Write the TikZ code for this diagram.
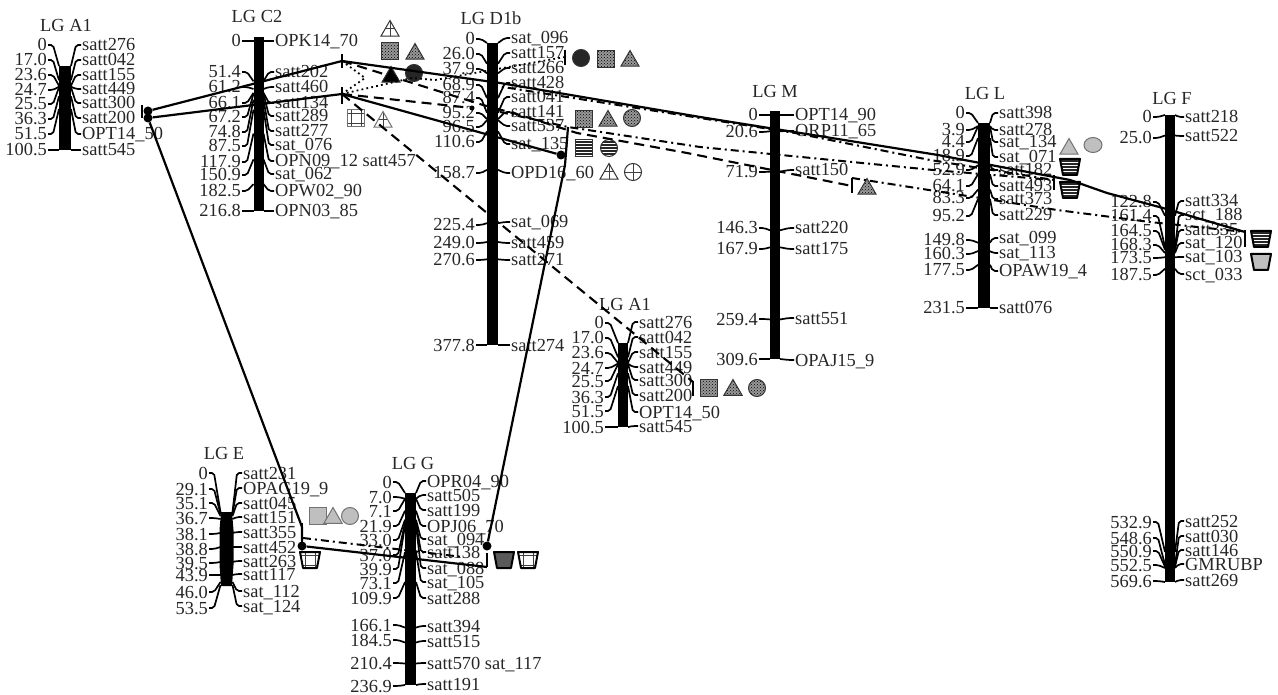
\documentclass[tikz,border=0pt]{standalone}
\usepackage{fontspec}
\setmainfont{Liberation Serif}
\usetikzlibrary{shapes.geometric,patterns}
\tikzset{
  x=1pt,y=-1pt,
  tickline/.style={line width=1.7pt,rounded corners=2pt},
  lab/.style={inner sep=0pt,font=\fontsize{18.4}{18.4}\selectfont,text=black!85},
  ttl/.style={inner sep=0pt,font=\fontsize{18.4}{18.4}\selectfont,text=black!85,anchor=base},
  sol/.style={line width=2.2pt,line join=round},
  ddot/.style={line width=2pt,dash pattern=on 8pt off 4pt on 2pt off 4pt},
  dsh/.style={line width=2.1pt,dash pattern=on 10pt off 6pt},
  dtt/.style={line width=1.8pt,dash pattern=on 1.8pt off 3.2pt},
  vtick/.style={line width=2.2pt},
  endot/.style={circle,fill=black,inner sep=0pt,minimum size=9pt},
  tri/.style={regular polygon,regular polygon sides=3,inner sep=0pt,minimum size=21pt,draw=black!80,line width=1pt},
  sqr/.style={rectangle,inner sep=0pt,minimum size=17pt,draw=black!80,line width=1pt},
  cir/.style={circle,inner sep=0pt,minimum size=17pt,draw=black!80,line width=1pt},
  cup/.style={draw=black,line width=2pt,line join=round},
  pdots/.style={preaction={fill=black!40},pattern=crosshatch dots,pattern color=black},
  pgrid/.style={path picture={
    \draw[line width=.8pt,black!75] (path picture bounding box.center)
      ++(-5,-20) -- ++(0,40) ++(10,0) -- ++(0,-40) ++(-25,15) -- ++(40,0) ++(0,10) -- ++(-40,0);}},
  pcross/.style={path picture={
    \draw[line width=.8pt,black!75] (path picture bounding box.center)
      ++(0,-20) -- ++(0,40) ++(-20,-20) -- ++(40,0);}},
  phl/.style={path picture={
    \draw[line width=1.3pt,black!85] (path picture bounding box.center)
      ++(-20,-6) -- ++(40,0) ++(0,3) -- ++(-40,0) ++(0,3) -- ++(40,0) ++(0,3) -- ++(-40,0) ++(0,3) -- ++(40,0);}},
  pgray/.style={fill=black!25,draw=black!55},
  pdark/.style={fill=black!65},
}
\newcommand{\cupat}[4]{% name, x, y, fill style
  \coordinate (#1) at (#2,#3);
  \draw[cup,#4,shift={(#1)}] (-10,-8) -- (10,-8) -- (7,8) -- (-7,8) -- cycle;
}
\newcommand{\marker}[6]{% name, pos, ylabel, yright, right text, y on bar
  \node[lab,anchor=base east] (#1l) at (\cxl,#3+6) {#2};
  \node[lab,anchor=base west] (#1r) at (\cxr,#4+6) {#5};
  \draw[tickline] (\cxl+1,#3) -- (\cxl+6,#3) -- (\cxc-\chw,#6);
  \draw[tickline] (\cxr-1,#4) -- (\cxr-6,#4) -- (\cxc+\chw,#6);
}
\newcommand{\linkgroup}[9]{% name, xc, halfwidth, top, bottom, xleft, xright, max, list
  \def\cxc{#2}\def\chw{#3}\def\cxl{#6}\def\cxr{#7}
  \fill (#2-#3,#4) rectangle (#2+#3,#5);
  \foreach \pos/\yl/\yr/\nm [count=\i] in {#9}{
    \pgfmathsetmacro\by{#4+\pos/#8*(#5-#4)}
    \marker{#1\i}{\pos}{\yl}{\yr}{\nm}{\by}
  }
}
\begin{document}
\begin{tikzpicture}
\useasboundingbox (0,0) rectangle (1278,695);
% titles
\node[ttl] (tA) at (66,32) {LG A1};
\node[ttl] (tC) at (257,23) {LG C2};
\node[ttl] (tD) at (491,25) {LG D1b};
\node[ttl] (tM) at (775,98) {LG M};
\node[ttl] (tL) at (985,100) {LG L};
\node[ttl] (tF) at (1172,105) {LG F};
\node[ttl] (tE) at (224,459) {LG E};
\node[ttl] (tG) at (413,469) {LG G};
\node[ttl] (tB) at (625,310) {LG A1};
% linkage groups
\linkgroup{a}{65}{6}{66}{150}{47}{82}{100.5}{
 0/45/45/satt276,17.0/60/60/satt042,23.6/75/75/satt155,24.7/90/89/satt449,
 25.5/104/103/satt300,36.3/119/118/satt200,51.5/134/134/OPT14\_50,100.5/150/150/satt545}
\linkgroup{c}{258.5}{5}{41}{211}{241}{275}{216.8}{
 0/41/41/OPK14\_70,51.4/72/72/satt202,61.2/87/87/satt460,66.1/103/103/satt134,
 67.2/117/116/satt289,74.8/132/131/satt277,87.5/146/145/sat\_076,117.9/162/161/OPN09\_12 satt457,
 150.9/175/174/sat\_062,182.5/191/191/OPW02\_90,216.8/211/211/OPN03\_85}
\fill (253.5,37) rectangle (263.5,42);
\linkgroup{d}{492.5}{5.5}{43}{345}{475}{511}{377.8}{
 0/39/38/sat\_096,26.0/54/53/satt157,37.9/69/68/satt266,68.9/85/83/satt428,
 87.4/98/97/satt041,95.2/113/112/satt141,96.5/127/126/satt537,110.6/142/144/sat\_135,
 158.7/173/173/OPD16\_60,225.4/225/222/sat\_069,249.0/243/243/satt459,270.6/260/260/satt271,377.8/345/345/satt274}
\linkgroup{m}{775}{5}{115}{359}{758}{795}{309.6}{
 0/115/115/OPT14\_90,20.6/132/131/ORP11\_65,71.9/172/170/satt150,146.3/228/228/satt220,
 167.9/249/249/satt175,259.4/319/318/satt551,309.6/359/360/OPAJ15\_9}
\fill (770,111) rectangle (780,116);
\linkgroup{l}{984}{6}{123}{308}{965}{999}{231.5}{
 0/113/113/satt398,3.9/130/130/satt278,4.4/142/142/sat\_134,18.9/156/157/sat\_071,
 52.9/170/170/satt182,64.1/186/186/satt493,83.3/198/199/satt373,95.2/216/215/satt229,
 149.8/240/238/sat\_099,160.3/254/253/sat\_113,177.5/270/271/OPAW19\_4,231.5/308/308/satt076}
\linkgroup{f}{1170}{5}{115}{582}{1152}{1185}{569.6}{
 0/117/117/satt218,25.0/138/136/satt522,122.8/202/201/satt334,161.4/216/215/sct\_188,
 164.5/231/230/satt335,168.3/245/243/sat\_120,173.5/258/257/sat\_103,187.5/275/274/sct\_033,
 532.9/522/521/satt252,548.6/538/536/satt030,550.9/551/550/satt146,552.5/565/564/GMRUBP,569.6/581/580/satt269}
\linkgroup{g}{410.5}{5.5}{493}{685}{392}{427}{236.9}{
 0/482/481/OPR04\_90,7.0/497/495/satt505,7.1/511/510/satt199,21.9/526/526/OPJ06\_70,
 33.0/540/539/sat\_094,37.0/555/552/satt138,39.9/569/568/sat\_088,73.1/583/582/sat\_105,
 109.9/598/598/satt288,166.1/625/626/satt394,184.5/640/641/satt515,210.4/663/663/satt570 sat\_117,236.9/686/684/satt191}
\linkgroup{b}{623}{5}{343}{427}{604}{639}{100.5}{
 0/323/322/satt276,17.0/338/337/satt042,23.6/353/352/satt155,24.7/368/367/satt449,
 25.5/381/380/satt300,36.3/397/395/satt200,51.5/411/412/OPT14\_50,100.5/427/426/satt545}
% LG E: its lines run down beside the bar
\fill (221,512) -- (232,512) -- (233.5,530) -- (233.5,565) -- (232,586) -- (221,586) -- (219.5,565) -- (219.5,530) -- cycle;
\def\cxc{226.5}\def\chw{6}\def\cxl{208}\def\cxr{243}
\marker{e1}{0}{473}{473}{satt231}{512}
\marker{e2}{29.1}{489}{488}{OPAG19\_9}{514}
\marker{e3}{35.1}{503}{503}{satt045}{516}
\marker{e4}{36.7}{518}{517}{satt151}{519}
\marker{e5}{38.1}{534}{532}{satt355}{533}
\marker{e6}{38.8}{549}{547}{satt452}{547}
\marker{e7}{39.5}{563}{561}{satt263}{562}
\marker{e8}{43.9}{575}{574}{satt117}{575}
\marker{e9}{46.0}{592}{591}{sat\_112}{582}
\marker{e10}{53.5}{608}{606}{sat\_124}{585}
% symbols
\node[tri,pcross] (s1) at (390,31) {};
\node[sqr,pdots] (s2) at (390,51) {};
\node[tri,pdots] (s3) at (415,54) {};
\node[tri,fill=black] (s4) at (391,77) {};
\node[cir,fill=black!85] (s5) at (414,73) {};
\node[sqr,pgrid,draw=black!55] (s6) at (356,118) {};
\node[tri,pcross,draw=black!55] (s7) at (383,122) {};
\node[cir,fill=black!85] (s8) at (581,58) {};
\node[sqr,pdots] (s9) at (606,59) {};
\node[tri,pdots] (s10) at (630,61) {};
\node[sqr,pdots] (s11) at (584,119) {};
\node[tri,pdots] (s12) at (608,121) {};
\node[cir,pdots] (s13) at (632,118) {};
\node[sqr,phl] (s14) at (584,148) {};
\node[cir,phl] (s15) at (609,148) {};
\node[tri,pcross] (s16) at (609,174) {};
\node[cir,pcross] (s17) at (633,172) {};
\node[sqr,pdots] (s18) at (709,388) {};
\node[tri,pdots] (s19) at (733,390) {};
\node[cir,pdots] (s20) at (757,388) {};
\node[tri,pdots] (s21) at (867,189) {};
\node[tri,pgray] (s22) at (1069,149) {};
\node[ellipse,pgray,inner sep=0pt,minimum width=18pt,minimum height=15pt,line width=1pt] (s23) at (1093,145) {};
\cupat{s24}{1070}{167}{phl}
\cupat{s25}{1070}{190}{phl}
\cupat{s26}{1261}{239}{phl}
\cupat{s27}{1261}{262}{fill=black!25}
\node[sqr,pgray] (s28) at (318,516) {};
\node[tri,pgray] (s29) at (333,518) {};
\node[cir,pgray] (s30) at (350,516) {};
\cupat{s31}{310}{560}{pgrid}
\cupat{s32}{504}{560}{pdark}
\cupat{s33}{528}{560}{pgrid}
% connector ends
\node[endot] (da1) at (148,111) {};
\node[endot] (da2) at (148,118) {};
\coordinate (kc1) at (342,61);
\coordinate (kc2) at (342,94);
\coordinate (kd) at (565,57);
\coordinate (kd2) at (568,127);
\node[endot] (dd) at (561,155) {};
\coordinate (kb) at (693,382);
\coordinate (km) at (852,186);
\coordinate (kl) at (1054,180);
\coordinate (kf) at (1245,232);
\node[endot] (de) at (302,546) {};
\node[endot] (dg) at (487,546) {};
\coordinate (ke) at (303,538);
\coordinate (kg) at (487,567);
\coordinate (kg2) at (463,557);
\node[endot,minimum size=5pt] (dx) at (472,108) {};
% bars at connector ends
\draw[vtick] (142,105) -- (142,118);
\draw[vtick] (342,54) -- (342,68);
\draw[vtick] (342,87) -- (342,104);
\draw[vtick] (565,50) -- (565,65);
\draw[vtick] (693,381) -- (693,396);
\draw[vtick] (852,178) -- (852,193);
\draw[vtick] (1054,175) -- (1054,190);
\draw[vtick] (1245,230) -- (1245,247);
\draw[vtick] (302,523) -- (302,546);
\draw[vtick] (487,553) -- (487,567);
% connectors
\draw[sol] (da1) -- (kc1) -- (500,83) -- (700,117) -- (938,155) -- (1070,180) -- (1107,193) -- (1163,208) -- (kf);
\draw[sol] (da2) -- (kc2) -- (dd);
\draw[sol] (da2) -- (302,527) -- (de) -- (kg);
\draw[sol] (dg) -- (565,165) -- (kd2);
\draw[ddot] (ke) -- (kg2);
\draw[dsh] (kc2) -- (kb);
\draw[dsh] (kc1) -- (483,105) -- (520,115) -- (577,133) -- (687,153) -- (km);
\draw[ddot] (490,85) -- (567,97) -- (795,133) -- (930,160) -- (kl);
\draw[ddot] (500,112) -- (kd2) -- (700,147) -- (933,170) -- (kl);
\draw[ddot] (km) ++(0,-8) -- (1057,210) -- (1150,222) -- (kf);
\draw[dtt] (kc2) -- (412,78) -- (435,80) -- (kd);
\draw[dtt] (kc1) -- (365,78) -- (kc2);
\draw[dsh] (kc2) -- (dx);
\end{tikzpicture}
\end{document}
